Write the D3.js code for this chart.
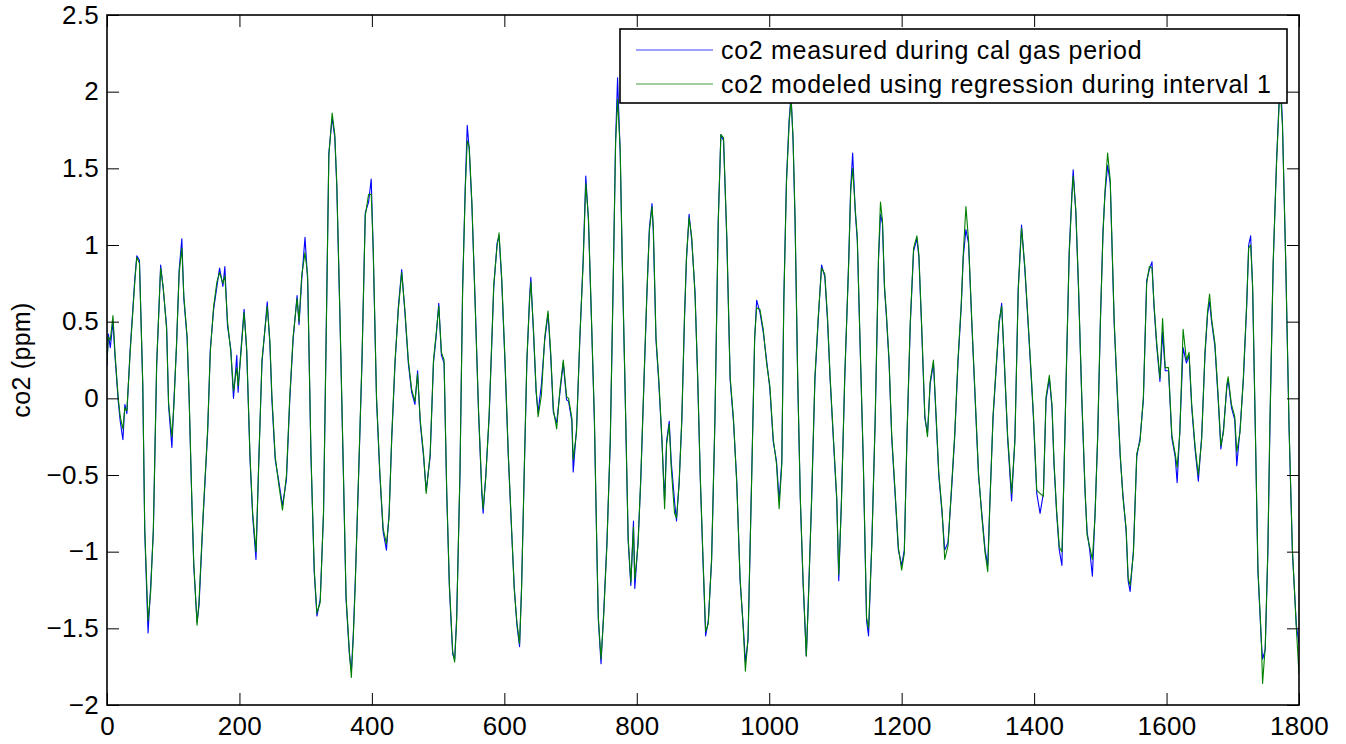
<!DOCTYPE html>
<html>
<head>
<meta charset="utf-8">
<script src="https://cdn.jsdelivr.net/npm/d3@7"></script>
<style>
html,body{margin:0;padding:0;background:#fff;}
svg{display:block;}
text{font-family:"Liberation Sans",Arial,Helvetica,sans-serif;fill:#000;}
</style>
</head>
<body>
<svg id="chart" width="1346" height="744"></svg>
<script>
// ---- data ----
const time = [0,2,5,9,12,17,20,24,27,30,35,42,45,49,54,57,62,66,70,75,81,85,90,93,98,101,105,109,113,116,121,124,128,131,136,139,145,152,156,161,166,170,175,178,182,187,191,196,198,202,207,211,216,220,225,229,234,242,246,249,254,259,265,271,276,281,287,290,294,299,303,308,313,317,322,327,332,335,340,344,347,352,357,361,366,369,372,375,380,385,390,395,399,402,407,412,417,422,426,430,435,440,445,450,455,460,465,469,473,478,482,488,493,497,501,505,509,513,517,522,525,528,533,537,541,544,547,551,556,561,566,568,572,577,581,584,589,592,596,601,606,611,615,619,623,626,630,634,638,640,644,648,651,656,661,666,670,674,679,684,689,694,697,702,704,709,714,719,723,727,731,736,740,742,746,750,755,760,765,768,771,775,778,782,787,791,795,797,802,806,811,815,819,823,825,829,833,838,842,845,849,852,857,860,864,868,872,875,879,883,888,892,896,900,904,908,913,918,923,927,931,936,941,946,951,956,961,964,968,974,978,981,986,991,996,1001,1006,1011,1015,1019,1022,1026,1030,1033,1036,1039,1043,1047,1051,1056,1059,1064,1069,1074,1079,1084,1088,1092,1097,1102,1105,1109,1114,1120,1123,1126,1130,1133,1137,1142,1147,1150,1155,1160,1165,1168,1171,1174,1177,1181,1185,1190,1195,1200,1204,1208,1213,1218,1223,1226,1230,1235,1239,1243,1248,1252,1256,1261,1265,1270,1275,1280,1285,1290,1293,1297,1301,1306,1311,1316,1321,1326,1330,1333,1338,1344,1347,1351,1355,1360,1366,1371,1376,1381,1386,1391,1396,1399,1404,1409,1414,1418,1423,1427,1430,1434,1438,1442,1445,1449,1453,1457,1459,1463,1467,1472,1477,1480,1484,1488,1492,1496,1500,1504,1507,1511,1515,1517,1521,1526,1530,1534,1539,1542,1545,1550,1555,1560,1565,1570,1574,1578,1581,1585,1590,1594,1598,1603,1608,1613,1616,1620,1625,1630,1634,1638,1643,1648,1653,1658,1662,1665,1668,1673,1678,1682,1686,1691,1693,1698,1703,1706,1711,1716,1721,1724,1727,1730,1734,1738,1743,1745,1749,1753,1756,1761,1766,1770,1772,1775,1780,1785,1790,1796,1800];

const measured = [0.21,0.42,0.33,0.50,0.28,-0.02,-0.15,-0.27,-0.04,-0.10,0.32,0.78,0.93,0.90,0.08,-0.87,-1.53,-1.22,-0.87,0.21,0.87,0.71,0.47,-0.05,-0.32,-0.02,0.34,0.84,1.04,0.65,0.39,0.00,-0.66,-1.09,-1.46,-1.35,-0.79,-0.22,0.32,0.58,0.73,0.85,0.73,0.86,0.47,0.32,0.00,0.28,0.04,0.30,0.58,0.30,-0.40,-0.77,-1.05,-0.43,0.23,0.63,0.35,-0.01,-0.40,-0.53,-0.70,-0.53,-0.01,0.38,0.67,0.48,0.77,1.05,0.77,-0.38,-1.14,-1.42,-1.31,-0.75,0.72,1.60,1.83,1.70,1.38,0.48,-0.50,-1.31,-1.67,-1.78,-1.53,-1.18,-0.50,0.23,1.21,1.28,1.43,0.96,-0.01,-0.50,-0.87,-0.99,-0.75,-0.26,0.23,0.60,0.84,0.55,0.23,0.04,-0.04,0.18,-0.16,-0.38,-0.60,-0.38,0.23,0.40,0.62,0.28,0.23,-0.62,-1.23,-1.67,-1.70,-1.43,-0.50,0.72,1.38,1.78,1.62,1.26,0.62,-0.09,-0.62,-0.75,-0.50,-0.13,0.35,0.72,1.01,1.06,0.77,0.23,-0.38,-0.87,-1.23,-1.48,-1.62,-1.23,-0.50,0.23,0.65,0.79,0.43,0.04,-0.09,0.09,0.38,0.55,0.28,-0.09,-0.16,0.04,0.23,-0.01,-0.02,-0.15,-0.48,-0.20,0.38,0.90,1.45,1.16,0.59,-0.15,-1.06,-1.45,-1.73,-1.40,-0.93,-0.28,0.90,1.68,2.09,1.60,0.90,0.12,-0.93,-1.22,-0.80,-1.24,-0.93,-0.54,0.12,0.64,1.11,1.27,1.08,0.38,0.12,-0.28,-0.67,-0.28,-0.15,-0.41,-0.67,-0.80,-0.54,-0.15,0.51,0.90,1.20,1.03,0.69,0.12,-0.54,-1.06,-1.55,-1.45,-1.06,-0.15,1.16,1.72,1.68,1.03,0.12,-0.15,-0.54,-1.19,-1.50,-1.72,-1.58,-0.41,0.38,0.64,0.56,0.43,0.25,0.06,-0.28,-0.41,-0.67,-0.41,0.64,1.42,1.81,1.98,1.68,1.16,0.12,-0.67,-1.19,-1.68,-1.32,-0.67,0.12,0.51,0.87,0.79,0.51,0.12,-0.28,-0.67,-1.19,-0.67,0.12,0.90,1.37,1.60,1.21,1.03,0.38,-0.41,-1.45,-1.55,-0.93,-0.15,0.90,1.20,1.14,0.72,0.53,0.23,-0.26,-0.62,-0.99,-1.09,-0.99,-0.26,0.48,0.96,1.04,0.92,0.48,-0.13,-0.23,0.09,0.23,-0.13,-0.50,-0.75,-0.99,-0.94,-0.62,-0.26,0.23,0.60,0.92,1.10,1.01,0.48,-0.01,-0.50,-0.75,-0.99,-1.09,-0.70,-0.13,0.28,0.48,0.62,0.23,-0.26,-0.67,-0.26,0.72,1.13,0.84,0.48,0.11,-0.13,-0.62,-0.75,-0.62,-0.01,0.13,-0.06,-0.43,-0.75,-0.99,-1.09,-0.50,0.23,0.96,1.33,1.49,1.21,0.72,-0.01,-0.62,-0.87,-0.99,-1.16,-0.75,-0.26,0.48,1.09,1.33,1.52,1.40,1.09,0.48,-0.01,-0.38,-0.62,-0.87,-1.19,-1.26,-0.99,-0.38,-0.26,-0.01,0.77,0.84,0.89,0.60,0.35,0.11,0.43,0.18,0.18,-0.26,-0.38,-0.55,-0.21,0.33,0.23,0.28,-0.06,-0.33,-0.54,-0.25,0.28,0.55,0.63,0.50,0.34,-0.01,-0.33,-0.20,0.07,0.12,-0.06,-0.14,-0.44,-0.20,0.12,0.60,1.00,1.06,0.71,-0.20,-1.13,-1.58,-1.70,-1.64,-1.00,-0.20,0.87,1.54,1.94,2.10,1.80,0.87,-0.20,-1.00,-1.48,-1.60];

const modeled = [0.24,0.40,0.38,0.54,0.30,0.00,-0.12,-0.20,-0.06,-0.08,0.30,0.76,0.92,0.88,0.10,-0.85,-1.45,-1.26,-0.85,0.23,0.85,0.72,0.45,-0.03,-0.25,-0.05,0.36,0.82,0.98,0.67,0.40,0.02,-0.64,-1.07,-1.48,-1.32,-0.77,-0.20,0.30,0.60,0.76,0.82,0.75,0.80,0.50,0.30,0.05,0.20,0.08,0.28,0.56,0.32,-0.38,-0.75,-1.00,-0.45,0.25,0.60,0.37,0.02,-0.38,-0.55,-0.73,-0.50,0.01,0.40,0.65,0.50,0.80,0.95,0.80,-0.36,-1.12,-1.40,-1.33,-0.73,0.70,1.58,1.86,1.72,1.40,0.50,-0.48,-1.29,-1.65,-1.82,-1.55,-1.20,-0.48,0.25,1.19,1.33,1.33,0.98,0.01,-0.48,-0.85,-0.95,-0.77,-0.24,0.25,0.58,0.82,0.57,0.25,0.06,-0.02,0.16,-0.14,-0.36,-0.62,-0.36,0.25,0.42,0.60,0.30,0.25,-0.60,-1.21,-1.65,-1.72,-1.45,-0.48,0.70,1.36,1.68,1.64,1.28,0.60,-0.07,-0.60,-0.72,-0.52,-0.11,0.37,0.74,0.99,1.08,0.79,0.25,-0.36,-0.85,-1.25,-1.46,-1.60,-1.25,-0.48,0.25,0.63,0.76,0.45,0.06,-0.12,0.02,0.40,0.57,0.30,-0.07,-0.20,0.06,0.25,0.01,0.00,-0.13,-0.40,-0.22,0.40,0.88,1.40,1.18,0.61,-0.13,-1.04,-1.43,-1.70,-1.42,-0.95,-0.26,0.92,1.66,1.95,1.62,0.92,0.14,-0.91,-1.20,-0.84,-1.18,-0.95,-0.52,0.14,0.66,1.09,1.25,1.12,0.40,0.14,-0.26,-0.72,-0.30,-0.17,-0.45,-0.75,-0.78,-0.56,-0.13,0.53,0.92,1.18,1.05,0.67,0.14,-0.52,-1.04,-1.52,-1.47,-1.04,-0.13,1.14,1.72,1.70,1.05,0.14,-0.13,-0.56,-1.17,-1.52,-1.78,-1.56,-0.43,0.40,0.59,0.58,0.45,0.23,0.08,-0.26,-0.43,-0.72,-0.43,0.62,1.40,1.79,1.95,1.70,1.18,0.14,-0.65,-1.17,-1.68,-1.34,-0.65,0.14,0.53,0.85,0.81,0.53,0.14,-0.26,-0.65,-1.15,-0.69,0.14,0.88,1.35,1.50,1.23,1.05,0.40,-0.39,-1.43,-1.50,-0.95,-0.13,0.92,1.28,1.16,0.74,0.55,0.25,-0.24,-0.60,-0.97,-1.12,-1.01,-0.24,0.50,0.98,1.06,0.94,0.50,-0.11,-0.25,0.11,0.25,-0.11,-0.48,-0.73,-1.05,-0.96,-0.60,-0.24,0.25,0.62,0.94,1.25,1.03,0.50,0.01,-0.48,-0.77,-1.01,-1.13,-0.72,-0.11,0.30,0.50,0.60,0.25,-0.24,-0.62,-0.28,0.70,1.11,0.86,0.50,0.13,-0.11,-0.60,-0.62,-0.64,0.01,0.15,-0.04,-0.41,-0.73,-0.97,-1.00,-0.52,0.25,0.94,1.31,1.45,1.23,0.74,0.01,-0.60,-0.89,-0.97,-1.05,-0.77,-0.24,0.50,1.07,1.35,1.60,1.42,1.11,0.50,0.01,-0.36,-0.64,-0.85,-1.17,-1.22,-1.01,-0.36,-0.28,0.01,0.75,0.86,0.85,0.62,0.37,0.13,0.52,0.20,0.20,-0.24,-0.36,-0.45,-0.23,0.45,0.25,0.30,-0.04,-0.31,-0.50,-0.27,0.30,0.57,0.68,0.52,0.36,0.01,-0.31,-0.22,0.09,0.14,-0.04,-0.12,-0.35,-0.22,0.14,0.62,0.98,1.00,0.73,-0.18,-1.11,-1.56,-1.86,-1.62,-0.98,-0.18,0.89,1.52,1.92,2.00,1.78,0.89,-0.18,-0.98,-1.50,-1.80];

const yTicks = [-2,-1.5,-1,-0.5,0,0.5,1,1.5,2,2.5];
const xTicks = [0,200,400,600,800,1000,1200,1400,1600,1800];
const seriesNames = ["co2 measured during cal gas period","co2 modeled using regression during interval 1"];
const seriesColors = ["#0000ff","#008000"];
const yLabel = "co2 (ppm)";

// ---- drawing ----
const svg = d3.select("#chart");
const L = 107, R = 1299, T = 15, B = 705;
const x = d3.scaleLinear().domain([0,1800]).range([L,R]);
const y = d3.scaleLinear().domain([-2,2.5]).range([B,T]);
const fmt = v => (v < 0 ? "\u2212" : "") + String(Math.abs(v));
const FONT = "'Liberation Sans',Arial,Helvetica,sans-serif";

svg.append("defs").append("clipPath").attr("id","clip")
  .append("rect").attr("x",L).attr("y",T).attr("width",R-L).attr("height",B-T);

const g = svg.append("g");
const line = d3.line().x((d,i)=>x(time[i])).y(d=>y(d));

[measured, modeled].forEach((vals,k)=>{
  g.append("path").datum(vals)
    .attr("clip-path","url(#clip)")
    .attr("fill","none").attr("stroke",seriesColors[k]).attr("stroke-width",1.1)
    .attr("stroke-linejoin","round")
    .attr("d",line);
});

// axes (MATLAB box style, ticks inward)
const tl = 12;
const axB = svg.append("g").attr("transform",`translate(0,${B})`)
  .call(d3.axisBottom(x).tickValues(xTicks).tickSize(-tl).tickPadding(12).tickFormat(d=>String(d)));
const axT = svg.append("g").attr("transform",`translate(0,${T})`)
  .call(d3.axisTop(x).tickValues(xTicks).tickSize(-tl).tickFormat(""));
const axL = svg.append("g").attr("transform",`translate(${L},0)`)
  .call(d3.axisLeft(y).tickValues(yTicks).tickSize(-tl).tickPadding(8).tickFormat(fmt));
const axR = svg.append("g").attr("transform",`translate(${R},0)`)
  .call(d3.axisRight(y).tickValues(yTicks).tickSize(-tl).tickFormat(""));
[axB,axT,axL,axR].forEach(a=>{
  a.select(".domain").remove();
  a.selectAll("line").attr("stroke","#000").attr("stroke-width",1);
  a.selectAll("text").style("font-size","26px").attr("fill","#000")
   .style("font-family",FONT).style("letter-spacing","0.3px");
});
svg.append("rect").attr("x",L).attr("y",T).attr("width",R-L).attr("height",B-T)
  .attr("fill","none").attr("stroke","#000").attr("stroke-width",1.6);

svg.append("text").attr("transform",`translate(30,${(T+B)/2}) rotate(-90)`)
  .attr("text-anchor","middle").style("font-size","25px").style("letter-spacing","0.3px").text(yLabel);

// legend
const lg = svg.append("g");
lg.append("rect").attr("x",620).attr("y",29).attr("width",667).attr("height",74)
  .attr("fill","#fff").attr("stroke","#000").attr("stroke-width",1.6);
seriesNames.forEach((n,k)=>{
  const yy = 50 + k*34;
  lg.append("line").attr("x1",636).attr("x2",713).attr("y1",yy).attr("y2",yy)
    .attr("stroke",seriesColors[k]).attr("stroke-width",1.2).attr("opacity",0.75);
  lg.append("text").attr("x",721).attr("y",yy).attr("dy","0.36em")
    .style("font-size","25px").style("letter-spacing","0.7px").text(n);
});
</script>
</body>
</html>
